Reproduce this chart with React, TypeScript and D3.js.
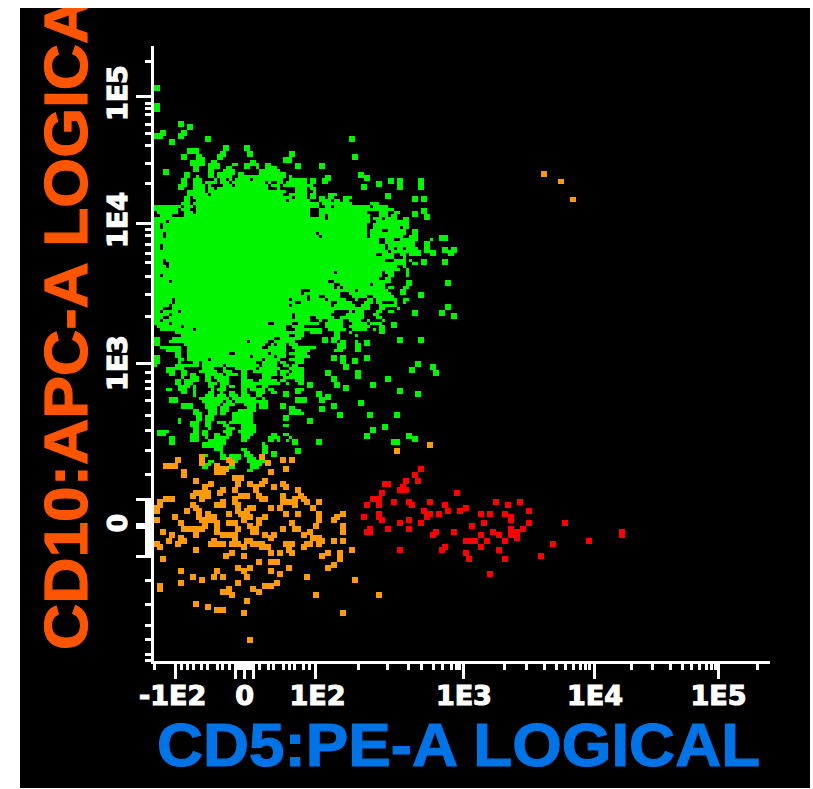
import React from "react";
import * as d3 from "d3";

// Event coordinates are display channels of the logicle-transformed cytometry plot.
const xMajorChannels = [7, 27, 30, 33, 53.7, 103, 146.7, 188.3];
const xMinorChannels = [0.3, 9, 11, 13, 15.7, 17.7, 21, 22.7, 25.3, 28, 29, 31, 32, 35, 38, 39.7, 43, 45, 46.7, 49.7, 51.7, 68, 77.7, 84.7, 89.3, 93.3, 96.3, 99, 100.7, 101.7, 116.7, 124.3, 130, 134, 137, 139.7, 142, 143.7, 145, 159.3, 166, 172, 176, 179, 181.7, 184, 185.7, 187, 201];
const yMajorChannels = [-11.3, 31.3, 77.7, 123, 131.5, 132.5, 142];
const yMinorChannels = [-23, -9, -7.3, -5.3, -1.7, 1.3, 5, 11, 17.7, 33.3, 35, 38, 41, 44, 48.7, 54.7, 62.3, 80.7, 83.7, 86.3, 90.3, 95.3, 100, 106.7, 114.7, 124, 125, 126, 127, 128, 129, 130, 131, 133, 134, 135, 136, 137, 138, 139, 140, 141, 150.3, 158, 165, 169.7, 174.7, 176.7];
const xTickLabels: [string, number][] = [["-1E2", 6.2], ["0", 30.2], ["1E2", 54.5], ["1E3", 103.3], ["1E4", 147], ["1E5", 188.2]];
const yTickLabels: [string, number][] = [["1E5", -12.3], ["1E4", 30], ["1E3", 77.7], ["0", 131]];
const xTitle = "CD5:PE-A LOGICAL";
const yTitle = "CD10:APC-A LOGICAL";

// Dense CD10+ population: each row is [row, from, to, from, to, ...] occupied channel runs.
const greenRuns: number[][] = [
  [11,12,15,18,22,26,28,30,32,33,35,37,39],[12,13,14,18,22,24,26,30,32,34,35,37,41],[13,13,14,18,20,23,27,35,42],
  [14,18,20,21,27,28,30,35,44],[15,14,15,18,20,21,26,28,44,45,46],
  [16,13,16,20,21,22,24,25,26,27,32,33,43,45,51,52,54],[17,13,16,17,21,22,25,26,37,38,39,41,43,44,51,52,54],
  [18,13,17,18,19,23,26,27,38,39,42,43,53],[19,13,17,18,20,21,38,41,42,47,51,52,54],[20,11,17,18,44,47,51,53,54],
  [21,11,18,19,43,45,51,52,54,58,61],[22,10,12,13,46,47,51,52,54,55,57,58,60,63,66],[23,10,12,14,44,45,52,55,59,60,62,63,65],
  [24,9,12,13,55,56,66,72,75],[25,0,9,10,13,14,55,57,59,60,72,73,78],[26,0,8,9,12,14,52,55,80],
  [27,1,8,10,13,14,52,55,71,75,78,80,82],[28,2,6,10,52,55,57,58,72,75,78,79,81],[29,0,57,58,72,73,76,77,81],
  [30,0,4,5,72,74,83],[31,0,2,3,71,73,85],[32,0,2,3,71,73,82,83,85],
  [33,0,71,72,76,78,84,86,88],[34,0,3,4,54,55,71,72,84,86,88],[35,0,3,4,55,56,71,72,83,85,88,95,97],
  [36,0,75,77,80,82,88,92,93],[37,0,75,77,87,90,92],[38,0,2,3,77,78,87,90,92],
  [39,0,2,3,77,78,80,81,83,84,88,90,92],[40,0,78,79,89,90,93],[41,0,74,76,80,82,84,85,89],
  [42,0,80,83,84],[43,0,3,4,77,80,84,85,86],[44,0,3,5,84,86,88],[45,0,4,5,81,83,84],
  [46,0,82,84,85],[47,0,60,61,76,77,80,84,85],[48,0,2,3,76,78,80,84,85],[49,0,75,77,79],
  [50,0,5,6,58,60,79,84,86],[51,0,60,62,72,73,77,84,86],[52,0,60,61,62,63,77,78,80,83,85],
  [53,0,49,52,67,68,78,82,84],[54,0,49,50,62,65,79,82,84],[55,0,51,52,55,57,62,66,71,73,80],
  [56,0,6,7,45,46,51,52,57,58,64,67,68,71,73,74,81,83,85],[57,0,6,7,47,49,59,61,66,70,73,74,76,80,81,83,84],
  [58,0,5,6,45,46,59,60,67,69,72,75,81],[59,0,3,6,72,75,77,81,82],[60,0,2,3,8,9,60,65,66,67,70,74,76,78,80],
  [61,0,5,6,46,47,59,64,70,73,75],[62,0,3,5,46,47,52,54,60,62,70,74,76],
  [63,0,2,3,52,55,56,58,63,65,69,71,72,76,77],[64,0,5,6,38,40,46,48,55,57,63,66,71,72,76],
  [65,1,9,10,44,46,50,57,63,65,72,75,77],[66,2,13,14,44,47,56,58,64,66,71,73,74],
  [67,7,50,52,56,60,62,65,66],[68,9,45,47,50,60,62,67,68],[69,0,2,6,40,42,49,57,58,60,62],
  [70,0,2,5,31,32,38,40,47,62,64,67,68],[71,0,2,10,37,39,40,41,44,45,48,61,63],
  [72,2,9,11,36,38,44,46,54,62,64],[73,4,9,11,44,47,52,60,63],[74,7,9,11,25,27,38,39,44,45,51],
  [75,0,2,7,9,11,32,33,40,41,44,47,52],[76,0,2,8,10,11,18,19,36,37,42,45,50],
  [77,0,2,8,9,13,15,16,34,36,41,42,44,47,50],[78,0,1,7,15,16,23,24,35,36,41,43,45,46,48],
  [79,4,10,16,20,23,24,27,34,35,42,45,50],[80,4,7,9,11,15,21,23,26,29,31,33,41,42,45,46,50],
  [81,5,7,9,11,12,14,17,23,24,28,29,31,36,41,42,44,45,50],[82,9,10,12,15,17,19,20,25,29,31,36,39,43,50],
  [83,7,9,10,15,17,19,21,25,29,33,35,41,42,44,47,50],[84,7,9,10,13,18,21,22,25,29,42,44,45,48,50],
  [85,8,12,13,14,18,20,22,24,25,27,29,34,36,38],[86,4,6,8,11,13,14,19,20,21,24,29,31,32,37,38,40,48,50],
  [87,9,11,13,14,18,20,22,23,25,27,29,31,34,37,39,41],[88,13,14,17,20,21,24,25,28,29,32,34,36],
  [89,5,8,15,25,26,34,36,37,48,50],[90,5,8,16,23,24,26,27,38],[91,9,13,17,22,23,27,30,34,35,38,42,44],
  [92,9,13,17,21,22,25,31,34,35,38,42,44],[93,13,15,18,21,22,25,28,34,45,47],[94,13,16,18,21,22,24,26,33,45,47,48,50],
  [95,14,16,17,20,26,33],[96,8,9,14,16,17,20,26,33,43,45],[97,8,9,12,15,17,19,21,24,25,33],
  [98,12,15,17,19,23,25,29,34,43,45],[99,13,15,18,19,24,27,29,34],[100,1,5,13,15,16,18,23,26,28,34],
  [101,1,4,12,15,16,18,20,22,24,26,29,33,39,41,43,45],[102,5,7,12,15,17,18,20,25,29,32,38,42,45,46],
  [103,5,7,12,15,18,24,29,31,38,40,41,42,44,45],[104,5,7,16,18,18,24,36,37],[105,16,18,18,23,36,38],
  [106,20,23,29,31,36,38,47,49],[107,22,23,30,32,36,38,39,41,47,49],[108,16,18,22,24,25,29,30,33,39,41],
  [109,22,24,25,29,31,34],[110,18,20,25,28,31,38],[111,17,19,25,27,32,36],[112,16,18,25,27,32,35],[113,31,33],
];

// Sparse events around the dense population: [x channel, y channel].
const greenEvents: [number, number][] = [
  [0,-15],[0,-9],[0,-8],[8,-3],[11,-2],[2,0],[0,1],[1,1],[9,0],[8,1],[5,3],[17,2],[65,2],[66,8],
  [11,6],[13,6],[23,5],[30,5],[31,7],[22,7],[21,8],[9,8],[14,8],[45,7],[43,9],[44,9],[15,9],
  [12,10],[14,10],[15,10],[19,10],[13,12],[3,13],[47,11],[55,11],[32,10],[10,14],[9,16],[8,18],[9,17],
  [68,14],[70,15],[56,16],[57,15],[78,16],[81,16],[88,16],[74,17],[69,18],[81,18],[88,18],[77,21],
  [86,22],[89,22],[89,26],[86,27],[90,28],[83,29],[95,35],[96,35],[90,37],[90,39],[92,40],[96,39],
  [98,40],[99,39],[96,43],[89,43],[97,50],[88,54],[97,58],[95,60],[99,61],[86,60],[79,64],[81,69],
  [88,69],[70,70],[75,66],[59,69],[56,69],[62,71],[61,72],[67,71],[67,72],[59,75],[62,75],[62,76],
  [70,75],[66,76],[63,78],[87,77],[85,79],[92,78],[93,80],[57,80],[59,82],[60,84],[63,85],[67,80],
  [67,81],[77,82],[72,84],[81,86],[87,87],[51,84],[43,87],[47,86],[47,89],[49,89],[54,87],[55,89],
  [57,88],[59,91],[68,90],[42,91],[45,92],[47,93],[55,92],[61,94],[71,94],[80,94],[43,95],[51,96],
  [76,98],[72,99],[70,101],[84,101],[86,102],[79,103],[80,103],[54,103],[46,103],
];

const orangeEvents: [number, number][] = [
  [7,109],[3,111],[5,111],[6,111],[9,113],[9,114],[15,108],[15,110],[24,109],[25,110],[20,111],[21,112],[23,112],[20,113],[22,113],
  [35,108],[37,110],[42,109],[45,109],[43,112],[38,113],[13,116],[26,115],[28,115],[27,117],[18,117],[16,118],[31,117],[33,118],[35,117],[36,116],[42,117],[39,118],[43,118],
  [22,119],[26,119],[33,119],[47,119],[13,120],[15,120],[17,120],[21,120],[12,121],[17,121],[15,122],[28,121],[30,121],[26,122],[34,121],[35,122],[36,122],[42,121],[42,122],[3,122],[5,122],[1,123],[0,125],[1,124],[0,126],[12,124],[22,123],[20,124],[22,124],[26,123],[27,124],[42,123],[44,123],[46,122],[48,121],[49,122],[46,124],[50,123],[54,123],
  [38,125],[41,125],[52,125],[10,126],[13,125],[14,126],[31,125],[32,125],[27,126],[30,126],[6,128],[0,129],[14,128],[17,127],[19,128],[24,127],[28,127],[30,128],[31,128],[43,127],[47,127],[54,127],[62,127],[60,128],[59,129],[54,129],[36,128],[34,129],[29,129],
  [15,129],[17,129],[19,129],[20,130],[8,130],[24,130],[26,130],[16,131],[9,132],[11,132],[13,132],[15,132],[20,132],[34,130],[31,131],[33,132],[27,132],[42,132],[45,130],[46,132],[47,132],[53,131],[62,131],[62,133],[2,133],[5,134],[8,135],[20,133],[22,134],[24,134],[26,134],[13,134],[36,134],[39,134],[38,135],[33,133],[32,133],[49,134],[51,133],[52,135],[54,135],
  [4,136],[9,136],[0,137],[1,138],[7,137],[19,136],[20,137],[18,137],[22,137],[26,136],[25,137],[27,137],[31,136],[30,136],[32,137],[35,137],[33,137],[29,138],[35,138],[37,138],[43,137],[45,137],[50,137],[51,137],[54,137],[55,136],[59,136],[62,136],[44,139],[49,138],
  [13,139],[2,142],[25,140],[23,141],[29,141],[38,140],[41,140],[45,140],[57,140],[55,141],[61,140],[61,142],[65,139],
  [34,143],[38,143],[40,143],[8,146],[12,148],[15,149],[20,146],[19,148],[22,148],[27,145],[29,146],[31,145],[30,148],[38,146],[41,147],[44,145],[50,148],[57,145],[59,144],
  [1,151],[1,152],[8,150],[27,150],[24,152],[22,153],[24,153],[25,154],[32,152],[34,153],[36,151],[38,151],[40,150],[66,149],[53,154],[74,154],
  [13,157],[17,158],[30,156],[20,159],[22,159],[29,160],[62,160],[31,169],[16,177],[91,104],[80,106],
];

// The three fainter events at the top right.
const orangeFarEvents: [number, number][] = [[129,13.67],[134.67,16.33],[138.67,22.33]];

const redEvents: [number, number][] = [
  [88,112],[86,114],[83,116],[87,116],[76,117],[77,117],[82,118],[81,119],[83,119],[75,120],[100,120],[72,122],[74,122],[70,124],[74,124],[79,123],[84,123],[85,124],[91,123],[96,124],[113,123],[117,124],[121,123],[124,126],[103,125],[89,126],[91,127],[90,128],[97,126],[101,126],[94,127],[108,127],[111,127],[116,127],[118,128],[118,129],[69,128],[74,127],[74,128],[75,129],[81,130],[84,129],[88,130],[105,131],[109,130],[124,130],[136,130],[71,132],[70,133],[71,133],[77,132],[84,132],[93,133],[92,134],[99,133],[112,133],[122,132],[118,132],[118,134],[120,133],[120,135],[108,134],[114,134],[155,133],[155,134],[103,136],[105,136],[106,136],[110,136],[116,136],[132,137],[144,136],[81,139],[96,138],[95,139],[108,138],[114,139],[103,140],[104,142],[116,142],[128,141],[111,147],
];

const GREEN = "#00f500";
const ORANGE = "#ff9a0c";
const RED = "#ff0000";

export default function App() {
  const x = d3.scaleLinear().domain([0, 206]).range([154, 772]);
  const y = d3.scaleLinear().domain([0, 177]).range([130, 661]);
  const cell = x(1) - x(0);
  const runRects = greenRuns.flatMap((row) => {
    const out: { r: number; a: number; b: number }[] = [];
    for (let i = 1; i + 1 < row.length; i += 2) out.push({ r: row[0], a: row[i], b: row[i + 1] });
    return out;
  });
  const dots = (data: [number, number][], fill: string, size = cell * 2) =>
    data.map(([cx, cy], i) => (
      <rect key={i} x={x(cx)} y={y(cy)} width={size} height={size} fill={fill} />
    ));
  return (
    <svg width={813} height={789} style={{ position: "absolute", left: 0, top: 0, background: "#fff" }}>
      <defs>
        <clipPath id="frame"><rect x={20} y={8} width={790} height={780} /></clipPath>
        <clipPath id="plot"><rect x={154} y={40} width={620} height={621} /></clipPath>
      </defs>
      <rect x={20} y={8} width={790} height={780} fill="#000" />
      <g clipPath="url(#plot)" shapeRendering="crispEdges">
        {runRects.map((s, i) => (
          <rect key={i} x={x(s.a)} y={y(s.r)} width={x(s.b) - x(s.a)} height={cell} fill={GREEN} />
        ))}
        {dots(greenEvents, GREEN)}
        {dots(orangeEvents, ORANGE)}
        {dots(redEvents, RED)}
        {dots(orangeFarEvents, ORANGE, 5.5)}
      </g>
      <g fill="#fff" shapeRendering="crispEdges">
        <rect x={151} y={46} width={3} height={618} />
        <rect x={151} y={661} width={619} height={3} />
        {xMajorChannels.map((c) => <rect key={c} x={x(c) - 1.5} y={664} width={3} height={15} />)}
        {xMinorChannels.map((c) => <rect key={c} x={x(c) - 1.5} y={664} width={3} height={6} />)}
        {yMajorChannels.map((c) => <rect key={c} x={136} y={y(c) - 1.5} width={15} height={3} />)}
        {yMinorChannels.map((c) => <rect key={c} x={145} y={y(c) - 1.5} width={6} height={3} />)}
      </g>
      <g fill="#fff" fontFamily="'DejaVu Sans'" fontWeight="bold" fontSize={27} stroke="#fff" strokeWidth={1.2}>
        {xTickLabels.map(([t, c]) => (
          <text key={t} x={x(c)} y={705} textAnchor="middle">{t}</text>
        ))}
        {yTickLabels.map(([t, c]) => (
          <text key={t} transform={`translate(127,${y(c)}) rotate(-90)`} textAnchor="middle">{t}</text>
        ))}
      </g>
      <text transform="translate(157,766) scale(1.045,1)" fontFamily="'Liberation Sans'" fontWeight="bold" fontSize={61} fill="#0073e6" stroke="#0073e6" strokeWidth={1.2}>{xTitle}</text>
      <g clipPath="url(#frame)">
        <text transform="translate(87,650) rotate(-90) scale(1.05,1)" fontFamily="'Liberation Sans'" fontWeight="bold" fontSize={61} fill="#ff5500" stroke="#ff5500" strokeWidth={1.2}>{yTitle}</text>
      </g>
    </svg>
  );
}
